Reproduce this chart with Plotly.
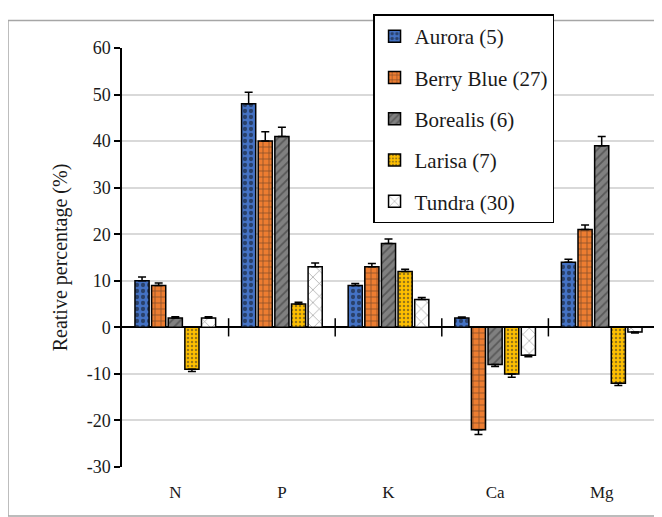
import plotly.graph_objects as go

categories = ["N", "P", "K", "Ca", "Mg"]
series_names = ["Aurora (5)", "Berry Blue (27)", "Borealis (6)", "Larisa (7)", "Tundra (30)"]
aurora = [10, 48, 9, 2, 14]
berry_blue = [9, 40, 13, -22, 21]
borealis = [2, 41, 18, -8, 39]
larisa = [-9, 5, 12, -10, -12]
tundra = [2, 13, 6, -6, -1]
aurora_err = [0.8, 2.5, 0.4, 0.2, 0.6]
berry_blue_err = [0.5, 2.0, 0.7, 1.0, 1.0]
borealis_err = [0.3, 2.0, 1.0, 0.4, 2.0]
larisa_err = [0.5, 0.4, 0.5, 0.7, 0.5]
tundra_err = [0.3, 0.8, 0.4, 0.3, 0.2]
y_ticks = [-30, -20, -10, 0, 10, 20, 30, 40, 50, 60]
y_tick_labels = [str(v) for v in y_ticks]

values = [aurora, berry_blue, borealis, larisa, tundra]
errors = [aurora_err, berry_blue_err, borealis_err, larisa_err, tundra_err]
colors = ["#4472C4", "#ED7D31", "#808080", "#FFC000", "#FFFFFF"]
patterns = [
    dict(shape=".", fgcolor="#101010", size=6, solidity=0.4),
    dict(shape="+", fgcolor="#202020", size=6, solidity=0.25),
    dict(shape="/", fgcolor="#303030", size=6, solidity=0.3),
    dict(shape=".", fgcolor="#303030", size=4, solidity=0.3),
    dict(shape="x", fgcolor="#404040", size=9, solidity=0.15),
]

FONT = "Liberation Serif"
TXT = "#1a1a1a"
xpos = list(range(len(categories)))

fig = go.Figure()
for name, vals, errs, col, pat in zip(series_names, values, errors, colors, patterns):
    plus = [e if v >= 0 else 0 for v, e in zip(vals, errs)]
    minus = [e if v < 0 else 0 for v, e in zip(vals, errs)]
    fig.add_trace(go.Bar(
        x=xpos, y=vals, name=name, legendgroup=name,
        marker=dict(color=col, line=dict(color="black", width=1.5), pattern=pat),
        error_y=dict(type="data", symmetric=False, array=plus, arrayminus=minus,
                     color="black", thickness=1.5, width=4),
    ))

# cross tick marks on the zero line at category boundaries
bounds = [i + 0.5 for i in range(len(categories))]
fig.add_trace(go.Scatter(
    x=bounds, y=[0] * len(bounds), mode="markers",
    marker=dict(symbol="line-ns-open", size=13, color="black",
                line=dict(color="black", width=1.5)),
    showlegend=False, hoverinfo="skip", cliponaxis=False,
))

fig.update_layout(
    width=654, height=509,
    margin=dict(l=114, r=7, t=32, b=50),
    paper_bgcolor="white", plot_bgcolor="white",
    barmode="group", bargap=0.22, bargroupgap=0.15,
    font=dict(family=FONT, size=15, color=TXT),
    showlegend=True,
    legend=dict(x=0.471, y=1.08, xanchor="left", yanchor="top",
                bordercolor="black", borderwidth=1.5, bgcolor="white",
                font=dict(family=FONT, size=21, color=TXT),
                tracegroupgap=11, traceorder="grouped",
                itemwidth=30),
    xaxis=dict(range=[-0.5, 4.5], tickmode="array", tickvals=xpos, ticktext=categories,
               showgrid=False, showline=False, zeroline=False, ticks="",
               ticklabelstandoff=13,
               tickfont=dict(family=FONT, size=17, color=TXT)),
    yaxis=dict(range=[-30, 60], tickmode="array", tickvals=y_ticks, ticktext=y_tick_labels,
               showgrid=True, gridcolor="#d9d9d9", gridwidth=1.5,
               showline=True, linecolor="black", linewidth=1.5,
               ticks="outside", ticklen=6, tickcolor="black", tickwidth=1.5,
               zeroline=True, zerolinecolor="black", zerolinewidth=1.5,
               tickfont=dict(family=FONT, size=18, color=TXT),
               title=dict(text="Reative percentage (%)", font=dict(family=FONT, size=20, color=TXT),
                          standoff=14)),
    shapes=[dict(type="rect", xref="paper", yref="paper",
                 x0=-0.2139, x1=1.011, y0=-0.117, y1=1.0656,
                 line=dict(color="#a6a6a6", width=1.5), layer="below")],
)

fig.write_html("out.html")
